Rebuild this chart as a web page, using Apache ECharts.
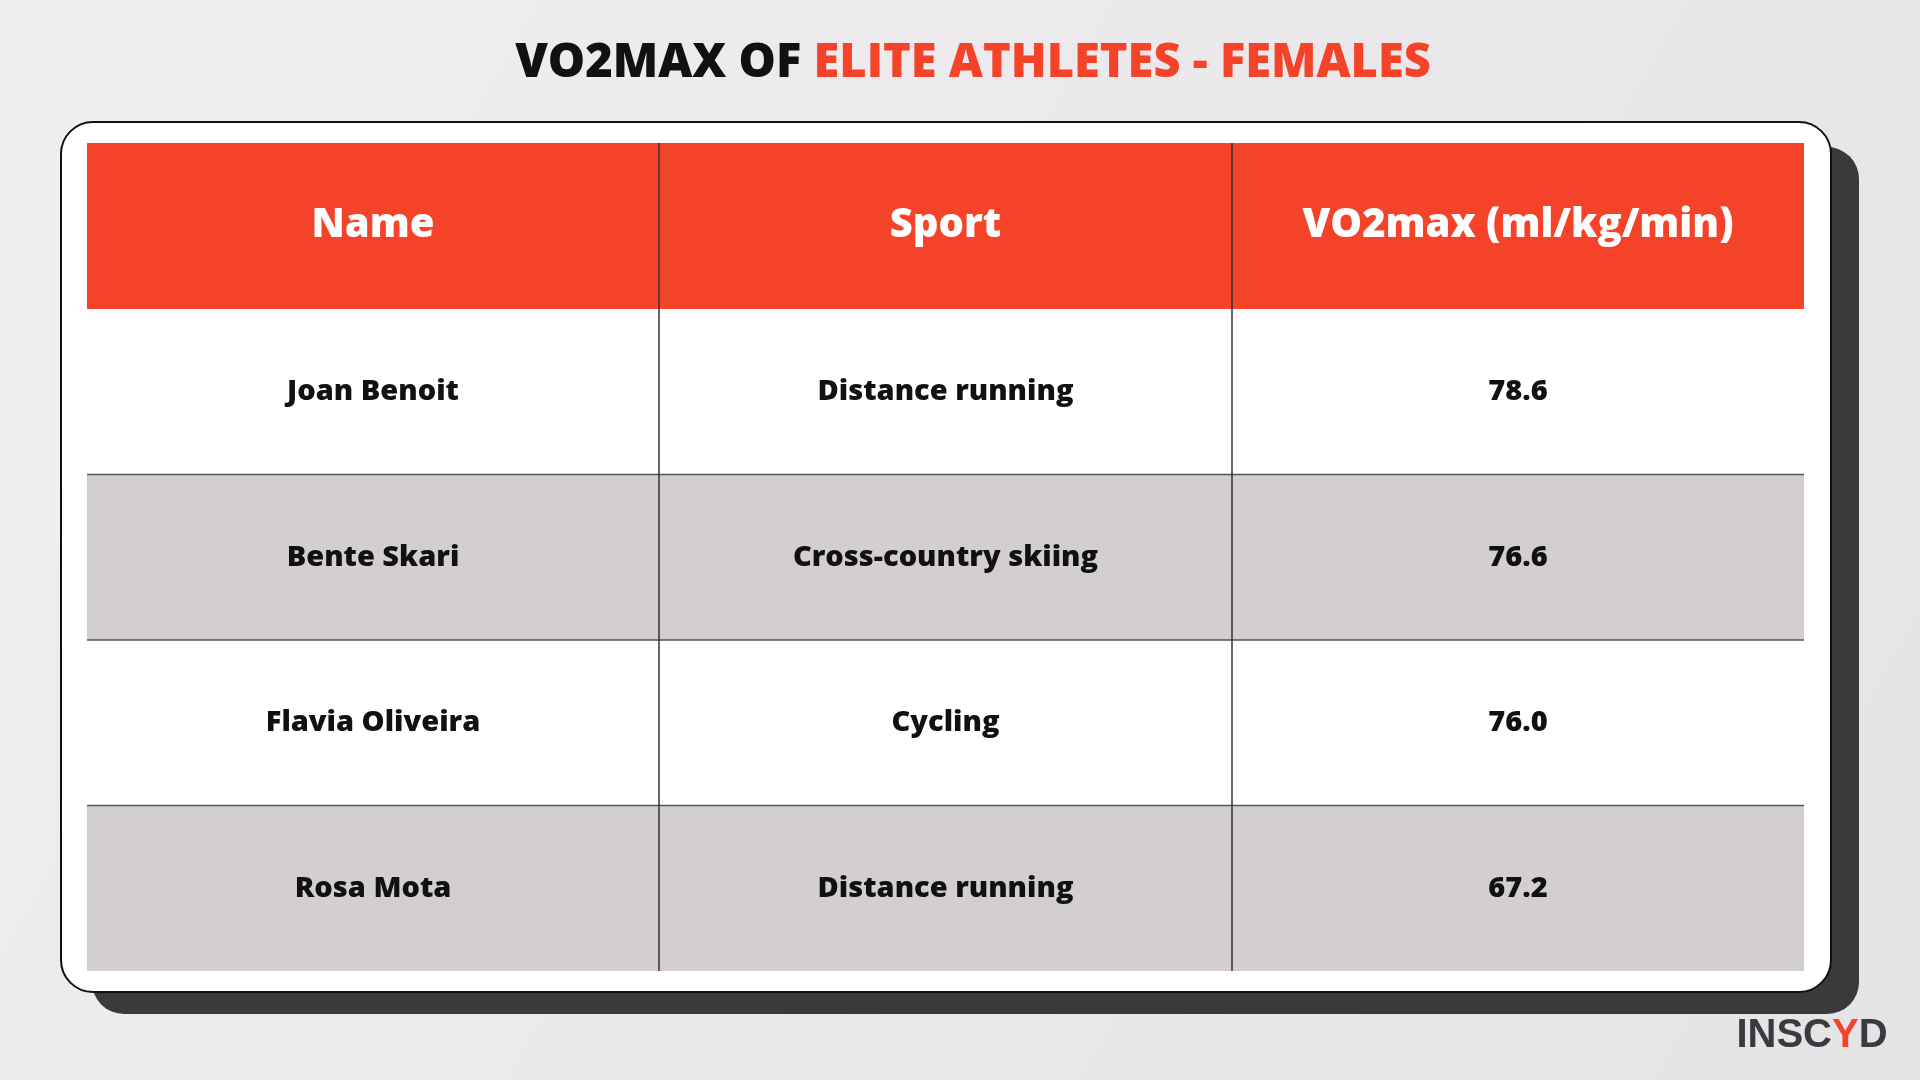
<!DOCTYPE html>
<html><head><meta charset="utf-8">
<script src="https://cdn.jsdelivr.net/npm/echarts@6/dist/echarts.min.js"></script>
<style>html,body{margin:0;padding:0}#c{width:1920px;height:1080px}</style></head>
<body><div id="c"></div>
<script>
const titleBlack = "VO2MAX OF ";
const titleRed = "ELITE ATHLETES - FEMALES";
const headers = ["Name", "Sport", "VO2max (ml/kg/min)"];
const names = ["Joan Benoit", "Bente Skari", "Flavia Oliveira", "Rosa Mota"];
const sports = ["Distance running", "Cross-country skiing", "Cycling", "Distance running"];
const vo2 = ["78.6", "76.6", "76.0", "67.2"];

const RED = '#f5432a', FONT = '"Open Sans"';
const tx0 = 87, tx1 = 1804, hy0 = 143, hy1 = 309, rowH = 165.5;
const colX = [tx0, 659, 1232, tx1];
const els = [];
els.push({type:'rect', shape:{x:0,y:0,width:1920,height:1080}, style:{fill:new echarts.graphic.LinearGradient(0,0,1,1,[{offset:0,color:'#f0eef0'},{offset:1,color:'#e6e3e6'}])}, z:0});
els.push({type:'rect', shape:{x:92,y:147,width:1767,height:867,r:32}, style:{fill:'#3a393c'}, z:1});
els.push({type:'rect', shape:{x:61,y:122,width:1770,height:870,r:32}, style:{fill:'#fff',stroke:'#111',lineWidth:2}, z:2});
els.push({type:'rect', shape:{x:tx0,y:hy0,width:tx1-tx0,height:hy1-hy0}, style:{fill:RED}, z:3});
headers.forEach((h,i)=>{
  els.push({type:'text', x:(colX[i]+colX[i+1])/2, y:(hy0+hy1)/2, style:{text:h, fill:'#fff', font:'800 40px '+FONT, align:'center', verticalAlign:'middle'}, z:6});
});
const rows = names.map((n,i)=>[n, sports[i], vo2[i]]);
rows.forEach((r,i)=>{
  const y0 = hy1 + i*rowH;
  els.push({type:'rect', shape:{x:tx0,y:y0,width:tx1-tx0,height:rowH}, style:{fill: i%2 ? '#d3cfd0' : '#ffffff'}, z:3});
  if (i>0) els.push({type:'line', shape:{x1:tx0,y1:y0,x2:tx1,y2:y0}, style:{stroke:'#555',lineWidth:1.5}, z:4});
  r.forEach((v,j)=>{
    els.push({type:'text', x:(colX[j]+colX[j+1])/2, y:y0+rowH/2, style:{text:v, fill:'#111', font:'800 29px '+FONT, align:'center', verticalAlign:'middle'}, z:6});
  });
});
const tableBottom = hy1 + rows.length*rowH;
[1,2].forEach(j=>els.push({type:'line', shape:{x1:colX[j],y1:hy0,x2:colX[j],y2:tableBottom}, style:{stroke:'#333',lineWidth:1.5}, z:5}));
els.push({type:'text', x:973, y:64, style:{text:'{a|'+titleBlack+'}{b|'+titleRed+'}', align:'center', verticalAlign:'middle',
  rich:{a:{font:'800 47px '+FONT, fill:'#111'}, b:{font:'800 47px '+FONT, fill:RED}}}, z:6});
els.push({type:'text', x:1812, y:1036, style:{text:'{a|INSC}{b|Y}{a|D}', align:'center', verticalAlign:'middle',
  rich:{a:{font:'900 40px "Liberation Sans"', fill:'#3b3a3e'}, b:{font:'900 40px "Liberation Sans"', fill:RED}}}, z:6});
const chart = echarts.init(document.getElementById('c'));
chart.setOption({animation:false, graphic:{elements:els}});
</script></body></html>
